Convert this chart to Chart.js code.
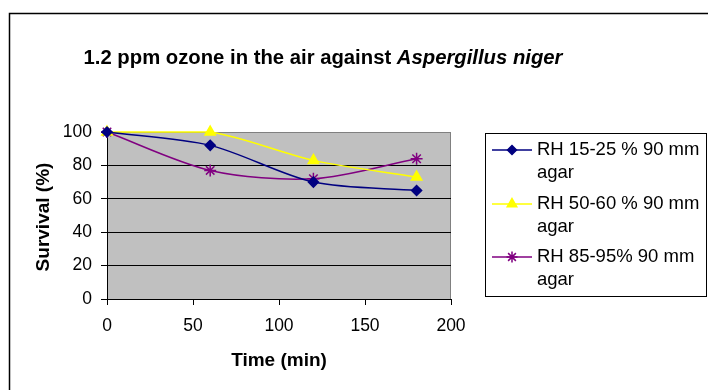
<!DOCTYPE html>
<html>
<head>
<meta charset="utf-8">
<title>Ozone survival</title>
<script src="https://cdn.jsdelivr.net/npm/chart.js@4/dist/chart.umd.min.js"></script>
<style>
  body { margin: 0; background: #fff; }
  canvas { display: block; }
</style>
</head>
<body>
<canvas id="chart" width="708" height="390"></canvas>
<script>
// sampling times (min) and survival (%) per humidity range
const times = [0, 60, 120, 180];
const rhLow = [100, 92, 70, 65];
const rhMid = [100, 100, 83, 73];
const rhHigh = [100, 77, 72, 84];

const seriesNames = [
    ['RH 15-25 % 90 mm', 'agar'],
    ['RH 50-60 % 90 mm', 'agar'],
    ['RH 85-95% 90 mm', 'agar']
];
const xTicks = [0, 50, 100, 150, 200];
const yTicks = [0, 20, 40, 60, 80, 100];

const FONT = "'Liberation Sans', Arial, sans-serif";

const styles = [
    { color: '#000080', point: 'rectRot', radius: 5 },
    { color: '#FFFF00', point: 'triangle', radius: 6 },
    { color: '#800080', point: 'star', radius: 6 }
];

const datasets = [rhLow, rhMid, rhHigh].map(function(values, i) {
    return {
        label: seriesNames[i].join(' '),
        data: times.map((t, j) => ({ x: t, y: values[j] })),
        borderColor: styles[i].color,
        backgroundColor: styles[i].color,
        borderWidth: 1.5,
        pointStyle: styles[i].point,
        pointRadius: styles[i].radius,
        pointBackgroundColor: styles[i].color,
        pointBorderColor: styles[i].color,
        pointBorderWidth: 1.5,
        tension: 0.3,
        clip: false
    };
});

// grey plot background, outer frame, titles and the wrapped legend
const decorations = {
    id: 'decorations',
    beforeDraw(chart) {
        const ctx = chart.ctx;
        const a = chart.chartArea;
        ctx.save();
        ctx.fillStyle = '#fff';
        ctx.fillRect(0, 0, chart.width, chart.height);
        ctx.strokeStyle = '#000';
        ctx.lineWidth = 1.5;
        ctx.strokeRect(9.5, 13.5, 800, 500);
        ctx.fillStyle = '#C0C0C0';
        ctx.fillRect(a.left, a.top, a.right - a.left, a.bottom - a.top);
        ctx.strokeStyle = '#808080';
        ctx.lineWidth = 1;
        ctx.strokeRect(a.left + 0.5, a.top + 0.5, a.right - a.left - 1, a.bottom - a.top);
        ctx.restore();
    },
    afterDraw(chart) {
        const ctx = chart.ctx;
        ctx.save();
        ctx.fillStyle = '#000';
        ctx.textBaseline = 'middle';

        // chart title, species name in italics
        const plain = '1.2 ppm ozone in the air against ';
        const species = 'Aspergillus niger';
        ctx.font = 'bold 20.3px ' + FONT;
        const w1 = ctx.measureText(plain).width;
        ctx.font = 'italic bold 20.3px ' + FONT;
        const w2 = ctx.measureText(species).width;
        let tx = 323 - (w1 + w2) / 2;
        ctx.textAlign = 'left';
        ctx.font = 'bold 20.3px ' + FONT;
        ctx.fillText(plain, tx, 58);
        ctx.font = 'italic bold 20.3px ' + FONT;
        ctx.fillText(species, tx + w1, 58);

        // axis titles
        ctx.font = 'bold 19px ' + FONT;
        ctx.textAlign = 'center';
        ctx.fillText('Time (min)', 279, 361);
        ctx.save();
        ctx.translate(44, 217);
        ctx.rotate(-Math.PI / 2);
        ctx.fillText('Survival (%)', 0, 0);
        ctx.restore();

        // legend box
        ctx.strokeStyle = '#000';
        ctx.lineWidth = 1;
        ctx.strokeRect(485.5, 133.5, 221, 163);
        const rowY = [150, 204, 257];
        ctx.font = '18.5px ' + FONT;
        ctx.textAlign = 'left';
        chart.data.datasets.forEach(function(ds, i) {
            const y = rowY[i];
            ctx.strokeStyle = ds.borderColor;
            ctx.lineWidth = 1.5;
            ctx.beginPath();
            ctx.moveTo(492, y);
            ctx.lineTo(532, y);
            ctx.stroke();
            ctx.fillStyle = ds.pointBackgroundColor;
            ctx.strokeStyle = ds.pointBorderColor;
            Chart.helpers.drawPoint(ctx, {
                pointStyle: ds.pointStyle,
                radius: ds.pointRadius - 0.5,
                borderWidth: 1.5,
                rotation: 0
            }, 512, y);
            ctx.fillStyle = '#000';
            seriesNames[i].forEach(function(line, k) {
                ctx.fillText(line, 537, y + k * 23);
            });
        });
        ctx.restore();
    }
};

new Chart(document.getElementById('chart'), {
    type: 'line',
    data: { datasets: datasets },
    options: {
        responsive: false,
        animation: false,
        layout: { padding: { left: 0, top: 132, right: 257, bottom: 0 } },
        plugins: {
            legend: { display: false },
            title: { display: false },
            tooltip: { enabled: false }
        },
        scales: {
            x: {
                type: 'linear',
                min: 0,
                max: 200,
                afterFit(scale) { scale.height = 91; },
                afterBuildTicks(scale) { scale.ticks = xTicks.map(v => ({ value: v })); },
                grid: {
                    drawOnChartArea: false,
                    color: '#000',
                    tickLength: 6,
                    tickColor: '#000'
                },
                border: { color: '#000', width: 1 },
                ticks: {
                    color: '#000',
                    padding: 11,
                    maxRotation: 0,
                    font: { family: FONT, size: 17.5 }
                }
            },
            y: {
                min: 0,
                max: 100,
                afterFit(scale) { scale.width = 107; },
                afterBuildTicks(scale) { scale.ticks = yTicks.map(v => ({ value: v })); },
                grid: {
                    color: ctx => ctx.tick && ctx.tick.value === 100 ? '#808080' : '#000',
                    tickLength: 6,
                    tickColor: '#000'
                },
                border: { color: '#000', width: 1 },
                ticks: {
                    color: '#000',
                    padding: 9,
                    font: { family: FONT, size: 17.5 }
                }
            }
        }
    },
    plugins: [decorations]
});
</script>
</body>
</html>
